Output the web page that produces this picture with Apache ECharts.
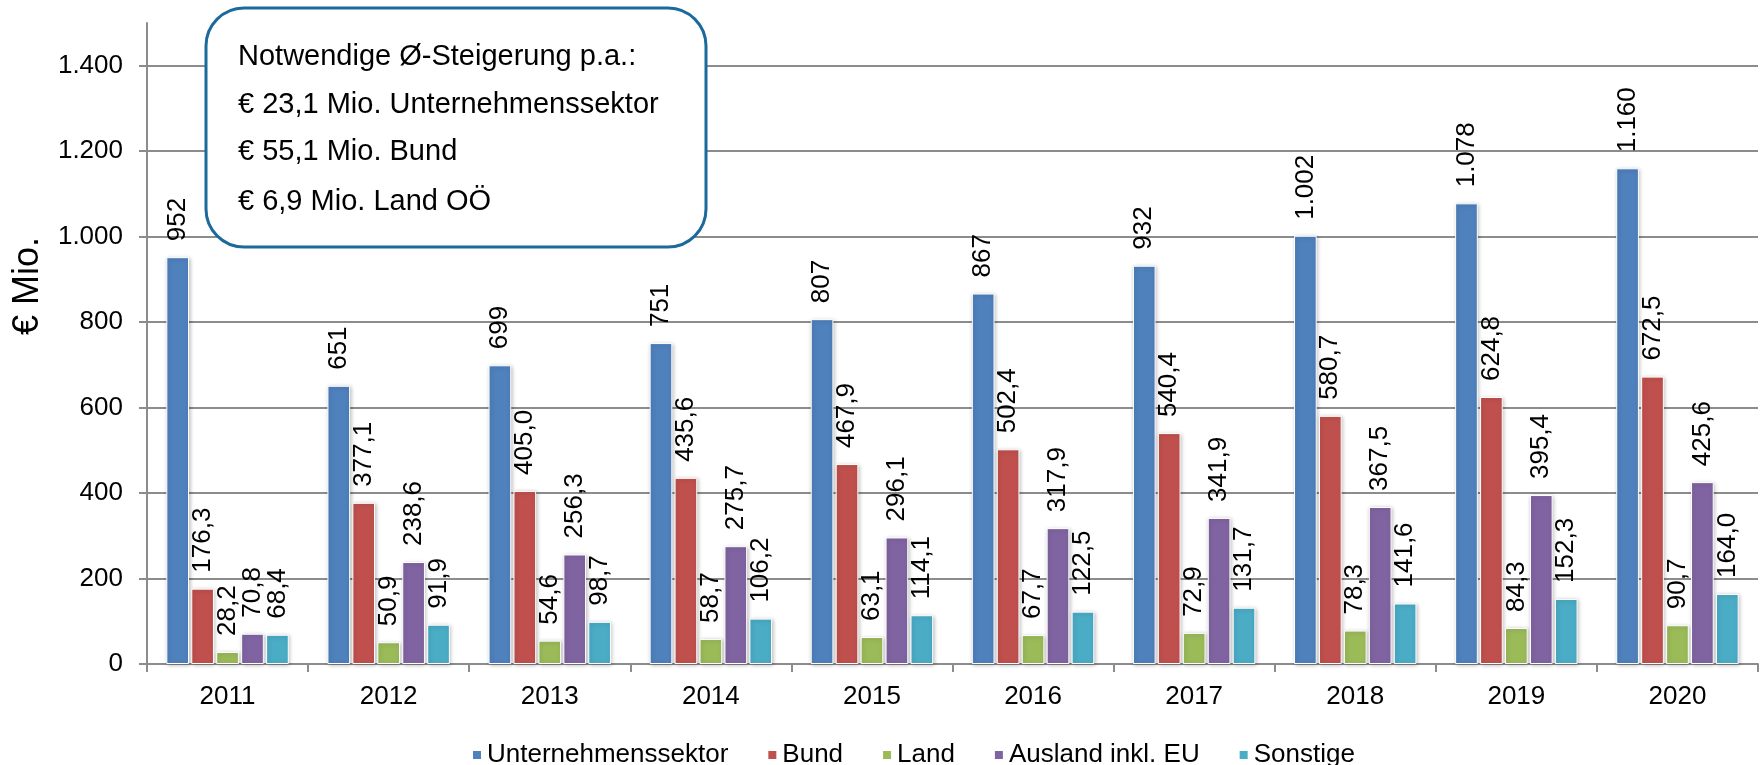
<!DOCTYPE html>
<html>
<head>
<meta charset="utf-8">
<script src="https://cdn.jsdelivr.net/npm/echarts@6/dist/echarts.min.js"></script>
<style>
  html, body { margin: 0; padding: 0; background: #fff; }
  #chart { width: 1762px; height: 765px; }
</style>
</head>
<body>
<div id="chart"></div>
<script>
// Werte
const years = ['2011', '2012', '2013', '2014', '2015', '2016', '2017', '2018', '2019', '2020'];
const unternehmen = [952, 651, 699, 751, 807, 867, 932, 1002, 1078, 1160];
const bund = [176.3, 377.1, 405.0, 435.6, 467.9, 502.4, 540.4, 580.7, 624.8, 672.5];
const land = [28.2, 50.9, 54.6, 58.7, 63.1, 67.7, 72.9, 78.3, 84.3, 90.7];
const ausland = [70.8, 238.6, 256.3, 275.7, 296.1, 317.9, 341.9, 367.5, 395.4, 425.6];
const sonstige = [68.4, 91.9, 98.7, 106.2, 114.1, 122.5, 131.7, 141.6, 152.3, 164.0];
const yTicks = [0, 200, 400, 600, 800, 1000, 1200, 1400];
const boxLines = [
  'Notwendige \u00D8-Steigerung p.a.:',
  '\u20AC 23,1 Mio. Unternehmenssektor',
  '\u20AC 55,1 Mio. Bund',
  '\u20AC 6,9 Mio. Land O\u00D6'
];

const FONT = '"Liberation Sans", Arial, sans-serif';
const colors = ['#4F81BD', '#C0504D', '#9BBB59', '#8064A2', '#4BACC6'];

function fmtInt(v) {
  return String(Math.round(v)).replace(/\B(?=(\d{3})+(?!\d))/g, '.');
}
function fmtDec(v) {
  return v.toFixed(1).replace('.', ',');
}

function makeSeries(name, data, fmt) {
  return {
    name: name,
    type: 'bar',
    data: data,
    barGap: '10%',
    barCategoryGap: '24%',
    itemStyle: {
      borderColor: '#fff',
      borderWidth: 1,
      shadowColor: 'rgba(0,0,0,0.25)',
      shadowBlur: 4,
      shadowOffsetX: 1,
      shadowOffsetY: 1
    },
    label: {
      show: true,
      position: 'top',
      rotate: 90,
      align: 'left',
      verticalAlign: 'middle',
      distance: 16,
      color: '#000',
      fontSize: 26,
      fontFamily: FONT,
      formatter: p => fmt(p.value)
    }
  };
}

const chart = echarts.init(document.getElementById('chart'), null, { renderer: 'canvas' });

const graphics = [
  {
    type: 'text',
    x: 28,
    y: 286,
    rotation: Math.PI / 2,
    style: {
      text: '\u20AC Mio.',
      fontSize: 36,
      fontFamily: FONT,
      fill: '#000',
      align: 'center',
      verticalAlign: 'middle'
    }
  },
  {
    type: 'rect',
    shape: { x: 206, y: 8, width: 500, height: 239, r: 38 },
    style: { fill: '#fff', stroke: '#1c6a9c', lineWidth: 3 },
    z: 100
  }
];
const lineY = [57, 105, 152, 202];
boxLines.forEach((t, i) => {
  graphics.push({
    type: 'text',
    x: 238,
    y: lineY[i],
    z: 101,
    style: {
      text: t,
      fontSize: 29,
      fontFamily: FONT,
      fill: '#000',
      align: 'left',
      verticalAlign: 'middle'
    }
  });
});

const option = {
  animation: false,
  color: colors,
  grid: { left: 147, right: 4, top: 23, bottom: 101, containLabel: false },
  legend: {
    left: 466,
    top: 737,
    icon: 'rect',
    itemWidth: 10,
    itemHeight: 10,
    itemGap: 38,
    textStyle: { color: '#000', fontSize: 26, fontFamily: FONT },
    data: ['Unternehmenssektor', 'Bund', 'Land', 'Ausland inkl. EU', 'Sonstige']
  },
  xAxis: {
    type: 'category',
    data: years,
    axisLine: { show: true, lineStyle: { color: '#8c8c8c', width: 2 } },
    axisTick: { show: true, length: 8, lineStyle: { color: '#8c8c8c', width: 2 } },
    axisLabel: { color: '#000', fontSize: 26, fontFamily: FONT, margin: 20 },
    splitLine: { show: false }
  },
  yAxis: {
    type: 'value',
    min: 0,
    max: 1500,
    interval: 200,
    axisLine: { show: true, lineStyle: { color: '#8c8c8c', width: 2 } },
    axisTick: { show: true, length: 8, customValues: yTicks, lineStyle: { color: '#8c8c8c', width: 2 } },
    axisLabel: {
      color: '#000', fontSize: 26, fontFamily: FONT, margin: 24,
      customValues: yTicks,
      formatter: v => fmtInt(v)
    },
    splitLine: { show: true, lineStyle: { color: '#8c8c8c', width: 2 } }
  },
  graphic: graphics,
  series: [
    makeSeries('Unternehmenssektor', unternehmen, fmtInt),
    makeSeries('Bund', bund, fmtDec),
    makeSeries('Land', land, fmtDec),
    makeSeries('Ausland inkl. EU', ausland, fmtDec),
    makeSeries('Sonstige', sonstige, fmtDec)
  ]
};

chart.setOption(option);
</script>
</body>
</html>
